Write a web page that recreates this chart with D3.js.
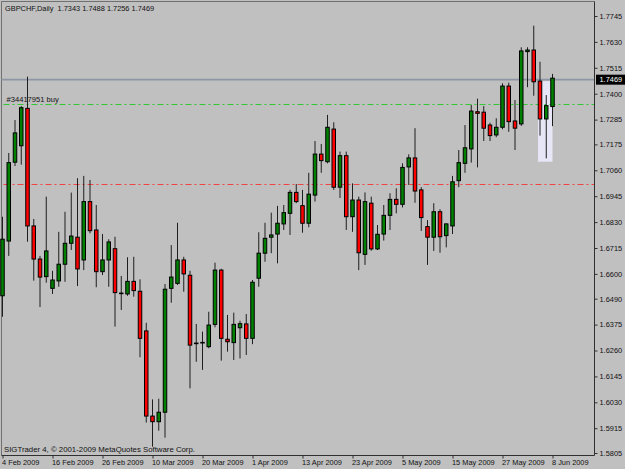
<!DOCTYPE html>
<html>
<head>
<meta charset="utf-8">
<script src="https://cdn.jsdelivr.net/npm/d3@7"></script>
<style>
  body { margin: 0; background: #c0c0c0; }
  svg { display: block; font-family: "Liberation Sans", Arial, sans-serif; }
</style>
</head>
<body>
<div id="chart"></div>
<script>
// GBPCHF daily bars, 4 Feb 2009 .. 8 Jun 2009
const opens = [
  1.6503, 1.6746, 1.7096, 1.7169, 1.7335, 1.6813, 1.6666, 1.6588, 1.6536, 1.6569,
  1.6643, 1.6736, 1.6763, 1.6662, 1.6921, 1.6795, 1.6610, 1.6662, 1.6712, 1.6515,
  1.6511, 1.6567, 1.6523, 1.6347, 1.5969, 1.5944, 1.5986, 1.6536, 1.6558, 1.6662,
  1.6594, 1.6293, 1.6296, 1.6277, 1.6376, 1.6617, 1.6310, 1.6295, 1.6361, 1.6378,
  1.6314, 1.6581, 1.6692, 1.6763, 1.6777, 1.6822, 1.6869, 1.6962, 1.6903, 1.6825,
  1.6950, 1.7132, 1.7098, 1.7243, 1.6985, 1.7125, 1.6854, 1.6928, 1.6687, 1.6914,
  1.6711, 1.6777, 1.6860, 1.6931, 1.6909, 1.7075, 1.7115, 1.6973, 1.6810, 1.6763,
  1.6876, 1.6770, 1.6813, 1.7014, 1.7091, 1.7155, 1.7320, 1.7318, 1.7261, 1.7217,
  1.7251, 1.7434, 1.7279, 1.7266, 1.7587, 1.7594, 1.7456, 1.7288, 1.7343
];
const highs = [
  1.6854, 1.7137, 1.7283, 1.7345, 1.7476, 1.6844, 1.6680, 1.6943, 1.6614, 1.6787,
  1.6876, 1.6961, 1.7025, 1.7035, 1.7017, 1.6906, 1.6777, 1.6754, 1.6765, 1.6591,
  1.6674, 1.6676, 1.6576, 1.6383, 1.6043, 1.6046, 1.6555, 1.6728, 1.6827, 1.6676,
  1.6614, 1.6378, 1.6344, 1.6432, 1.6650, 1.6623, 1.6418, 1.6428, 1.6392, 1.6422,
  1.6573, 1.6785, 1.6827, 1.6872, 1.6902, 1.6906, 1.6973, 1.6999, 1.6973, 1.7049,
  1.7190, 1.7177, 1.7306, 1.7273, 1.7143, 1.7143, 1.7002, 1.6943, 1.6962, 1.6943,
  1.6817, 1.6906, 1.6958, 1.6980, 1.7091, 1.7131, 1.7247, 1.6985, 1.6839, 1.6914,
  1.6887, 1.6825, 1.7035, 1.7150, 1.7261, 1.7350, 1.7378, 1.7345, 1.7271, 1.7291,
  1.7446, 1.7449, 1.7372, 1.7606, 1.7606, 1.7702, 1.7542, 1.7394, 1.7488
];
const lows = [
  1.6410, 1.6680, 1.7079, 1.7085, 1.6743, 1.6570, 1.6453, 1.6561, 1.6511, 1.6543,
  1.6565, 1.6706, 1.6546, 1.6617, 1.6780, 1.6541, 1.6595, 1.6543, 1.6366, 1.6440,
  1.6503, 1.6499, 1.6230, 1.5940, 1.5833, 1.5904, 1.5873, 1.6472, 1.6551, 1.6521,
  1.6092, 1.6210, 1.6174, 1.6270, 1.6363, 1.6215, 1.6255, 1.6218, 1.6225, 1.6240,
  1.6288, 1.6543, 1.6654, 1.6692, 1.6647, 1.6795, 1.6773, 1.6914, 1.6783, 1.6807,
  1.6921, 1.7049, 1.7091, 1.6973, 1.6937, 1.6795, 1.6787, 1.6617, 1.6640, 1.6703,
  1.6706, 1.6748, 1.6795, 1.6869, 1.6895, 1.6995, 1.6916, 1.6791, 1.6640, 1.6702,
  1.6694, 1.6718, 1.6777, 1.6985, 1.7049, 1.7094, 1.7073, 1.7190, 1.7190, 1.7207,
  1.7242, 1.7231, 1.7150, 1.7257, 1.7429, 1.7391, 1.7214, 1.7113, 1.7256
];
const closes = [
  1.6754, 1.7094, 1.7226, 1.7338, 1.6813, 1.6666, 1.6586, 1.6702, 1.6573, 1.6643,
  1.6736, 1.6768, 1.6622, 1.6921, 1.6792, 1.6610, 1.6662, 1.6742, 1.6517, 1.6514,
  1.6567, 1.6526, 1.6314, 1.5969, 1.5944, 1.5986, 1.6532, 1.6586, 1.6662, 1.6600,
  1.6284, 1.6292, 1.6295, 1.6373, 1.6617, 1.6314, 1.6299, 1.6376, 1.6379, 1.6314,
  1.6563, 1.6692, 1.6758, 1.6773, 1.6825, 1.6872, 1.6962, 1.6921, 1.6825, 1.6954,
  1.7132, 1.7103, 1.7251, 1.6985, 1.7125, 1.6854, 1.6928, 1.6694, 1.6921, 1.6711,
  1.6776, 1.6860, 1.6931, 1.6909, 1.7073, 1.7115, 1.6968, 1.6850, 1.6763, 1.6876,
  1.6765, 1.6822, 1.7009, 1.7094, 1.7160, 1.7323, 1.7313, 1.7247, 1.7214, 1.7251,
  1.7434, 1.7276, 1.7247, 1.7590, 1.7594, 1.7453, 1.7288, 1.7347, 1.7469
];

// trading days shown on the chart (weekdays)
const dates = d3.timeDays(new Date(2009, 1, 4), new Date(2009, 5, 9))
  .filter(d => d.getDay() !== 0 && d.getDay() !== 6);

const priceTicks = [1.7745, 1.7630, 1.7515, 1.7400, 1.7285, 1.7175, 1.7060, 1.6945, 1.6830,
  1.6715, 1.6600, 1.6490, 1.6375, 1.6260, 1.6145, 1.6030, 1.5915, 1.5805];
const priceRange = [1.5805, 1.7745];

const symbolTitle = "GBPCHF,Daily";
const bidPrice = 1.7469;
const orderLabel = "#34417951 buy";
const orderPrice = 1.7353;
const stopPrice = 1.7000;
const boxPrices = [1.7456, 1.7098];
const boxBars = [86, 88];
const copyright = "SIGTrader 4, \u00a9 2001-2009 MetaQuotes Software Corp.";

const W = 625, H = 469;
const plot = { left: 1.5, top: 1.5, right: 594.5, bottom: 455.5 };

const svg = d3.select("#chart").append("svg")
  .attr("width", W)
  .attr("height", H);

svg.append("rect").attr("width", W).attr("height", H).attr("fill", "#c0c0c0");

const bars = dates.map((d, i) => ({
  date: d, open: opens[i], high: highs[i], low: lows[i], close: closes[i]
}));

const x = d3.scalePoint()
  .domain(dates)
  .range([2.5, 552.5]);

const y = d3.scaleLinear()
  .domain(priceRange)
  .range([453, 16]);

// snap a horizontal level onto a pixel row so 1px lines stay sharp
const crisp = v => Math.round(v) + 0.5;

// frame
svg.append("path")
  .attr("d", `M${plot.left},${plot.bottom} V${plot.top} H${plot.right}`)
  .attr("fill", "none")
  .attr("stroke", "#707070")
  .attr("stroke-width", 1);

// selection box behind the last bars
svg.append("rect")
  .attr("x", x(dates[boxBars[0]]) - 2)
  .attr("y", y(boxPrices[0]))
  .attr("width", x(dates[boxBars[1]]) - x(dates[boxBars[0]]) + 2)
  .attr("height", y(boxPrices[1]) - y(boxPrices[0]))
  .attr("fill", "#e6e6f6");

// bid line
svg.append("line")
  .attr("x1", plot.left).attr("x2", plot.right)
  .attr("y1", y(bidPrice) + 1.5).attr("y2", y(bidPrice) + 1.5)
  .attr("stroke", "#8c96a4")
  .attr("stroke-width", 1.6);

// order and stop levels
svg.append("line")
  .attr("x1", plot.left + 2).attr("x2", plot.right)
  .attr("y1", crisp(y(orderPrice))).attr("y2", crisp(y(orderPrice)))
  .attr("stroke", "#33c833")
  .attr("stroke-width", 1)
  .attr("stroke-dasharray", "6,3,2,3");

svg.append("line")
  .attr("x1", plot.left + 2).attr("x2", plot.right)
  .attr("y1", crisp(y(stopPrice))).attr("y2", crisp(y(stopPrice)))
  .attr("stroke", "#f04444")
  .attr("stroke-width", 1)
  .attr("stroke-dasharray", "6,3,2,3");

svg.append("text")
  .attr("x", 6.5)
  .attr("y", y(orderPrice) - 2.5)
  .attr("font-size", 7.6)
  .attr("fill", "#111")
  .text(orderLabel);

// candles
const candles = svg.append("g").attr("class", "candles");

candles.selectAll(".wick")
  .data(bars)
  .enter()
  .append("line")
  .attr("class", "wick")
  .attr("x1", d => x(d.date)).attr("x2", d => x(d.date))
  .attr("y1", d => y(d.high)).attr("y2", d => y(d.low))
  .attr("stroke", "#1e1e1e")
  .attr("stroke-width", 1);

candles.selectAll(".body")
  .data(bars)
  .enter()
  .append("rect")
  .attr("class", "body")
  .attr("x", d => x(d.date) - 1.75)
  .attr("width", 3.5)
  .attr("y", d => y(Math.max(d.open, d.close)))
  .attr("height", d => Math.max(0.6, Math.abs(y(d.open) - y(d.close))))
  .attr("fill", d => d.close >= d.open ? "#008000" : "#ff0000")
  .attr("stroke", "#000")
  .attr("stroke-width", 1);

// price axis
const yAxis = d3.axisRight(y)
  .tickValues(priceTicks)
  .tickSize(3)
  .tickPadding(2)
  .tickFormat(d3.format(".4f"));

const yG = svg.append("g")
  .attr("transform", `translate(${plot.right}, 0)`)
  .call(yAxis);
yG.select(".domain").attr("stroke", "#303030").attr("d", `M0,${plot.top}V${plot.bottom}`);
yG.selectAll(".tick line").attr("stroke", "#303030");
yG.selectAll(".tick text")
  .attr("font-family", "Liberation Sans, Arial, sans-serif")
  .attr("font-size", 7.4)
  .attr("fill", "#111");

// date axis
const xAxis = d3.axisBottom(x)
  .tickValues(dates.filter((d, i) => i % 8 === 0))
  .tickSize(3)
  .tickPadding(1)
  .tickFormat(d3.timeFormat("%-d %b %Y"));

const xG = svg.append("g")
  .attr("transform", `translate(0, ${plot.bottom})`)
  .call(xAxis);
xG.select(".domain").attr("stroke", "#303030").attr("d", `M${plot.left},0H${plot.right}`);
xG.selectAll(".tick line").attr("stroke", "#303030");
xG.selectAll(".tick text")
  .attr("text-anchor", "start")
  .attr("x", -1)
  .attr("font-family", "Liberation Sans, Arial, sans-serif")
  .attr("font-size", 7.4)
  .attr("fill", "#111");

// current price tag
const tag = svg.append("g").attr("transform", `translate(${plot.right + 1.5}, ${y(bidPrice) + 1.5})`);
tag.append("rect")
  .attr("x", 0).attr("y", -5)
  .attr("width", 29).attr("height", 10)
  .attr("fill", "#000");
tag.append("text")
  .attr("x", 3.5).attr("y", 2.7)
  .attr("font-size", 7.4)
  .attr("fill", "#fff")
  .text(d3.format(".4f")(bidPrice));

// header and footer
const last = bars[bars.length - 1];
svg.append("text")
  .attr("x", 5).attr("y", 10.5)
  .attr("font-size", 7.4)
  .attr("fill", "#111")
  .attr("xml:space", "preserve")
  .style("white-space", "pre")
  .text(`${symbolTitle}  ${[last.open, last.high, last.low, last.close].map(d3.format(".4f")).join(" ")}`);

svg.append("text")
  .attr("x", 4).attr("y", 451.5)
  .attr("font-size", 7.8)
  .attr("fill", "#111")
  .text(copyright);
</script>
</body>
</html>
